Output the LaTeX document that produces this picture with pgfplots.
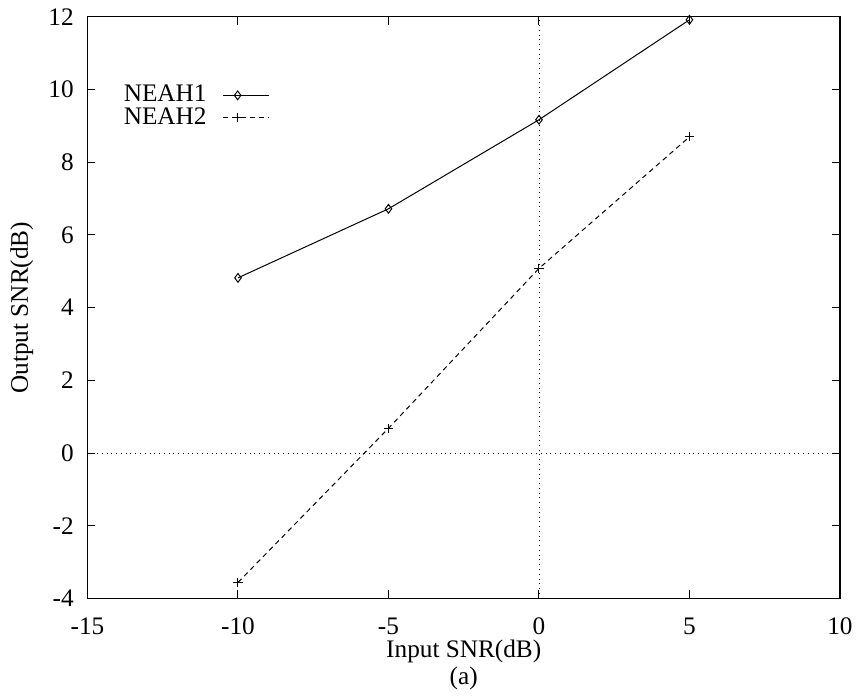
\documentclass[border=0pt]{standalone}
\usepackage{pgfplots}
\pgfplotsset{compat=1.18}
\usepackage{fontspec}
\setmainfont{Liberation Serif}
\begin{document}
\fontsize{12.7}{15}\selectfont
\begin{tikzpicture}
\begin{axis}[
  at={(0,0)}, anchor=south west,
  scale only axis, width=378.5pt, height=292.5pt,
  xmin=-15, xmax=10, ymin=-4, ymax=12,
  xtick={-15,-10,-5,0,5,10}, xticklabels={-15,-10,-5,0,5,10},
  ytick={-4,-2,0,2,4,6,8,10,12}, yticklabels={-4,-2,0,2,4,6,8,10,12},
  tick align=inside, major tick length=4pt,
  tick style={black, line width=0.5pt},
  axis line style={line width=0.6pt},
  /pgf/number format/assume math mode=true,
  ticklabel style={font=\fontsize{12.7}{15}\selectfont},
  xticklabel style={yshift=-5.5pt},
  yticklabel style={xshift=-2.5pt},
  xlabel={Input SNR(dB)},
  ylabel={Output SNR(dB)},
  label style={font=\fontsize{12.7}{15}\selectfont},
  xlabel style={at={([yshift=-26.5pt]rel axis cs:0.5,0)}, anchor=center},
  ylabel style={at={([xshift=-33pt]rel axis cs:0,0.5)}, anchor=center},
  legend plot pos=right,
  legend cell align=right,
  legend style={draw=none, fill=none, at={(rel axis cs:0.25,0.897)}, anchor=north east, row sep=-3pt,
    font=\fontsize{12.7}{15}\selectfont},
  legend image code/.code={\path (0cm,0cm); \draw[mark repeat=2,mark phase=2,#1] plot coordinates {(0.22cm,0cm) (0.47cm,0cm) (1.02cm,0cm)};},
]
\addplot[black, dotted, forget plot] coordinates {(0,-4) (0,12)};
\addplot[black, dotted, forget plot] coordinates {(-15,0) (10,0)};
\addplot[black, line width=0.5pt, mark=diamond, mark size=2.2pt, mark options={solid}] coordinates {
(-10,4.82) (-5,6.72) (0,9.17) (5,11.92)};
\addlegendentry{NEAH1}
\addplot[black, line width=0.5pt, dash pattern=on 2.5pt off 2pt, mark=+, mark size=2.3pt, mark options={solid}] coordinates {
(-10,-3.56) (-5,0.68) (0,5.08) (5,8.70)};
\addlegendentry{NEAH2}
\end{axis}
\node at (189.25pt,-40pt) {(a)};
\useasboundingbox (-44pt,-47pt) rectangle (386.5pt,301pt);
\end{tikzpicture}
\end{document}
